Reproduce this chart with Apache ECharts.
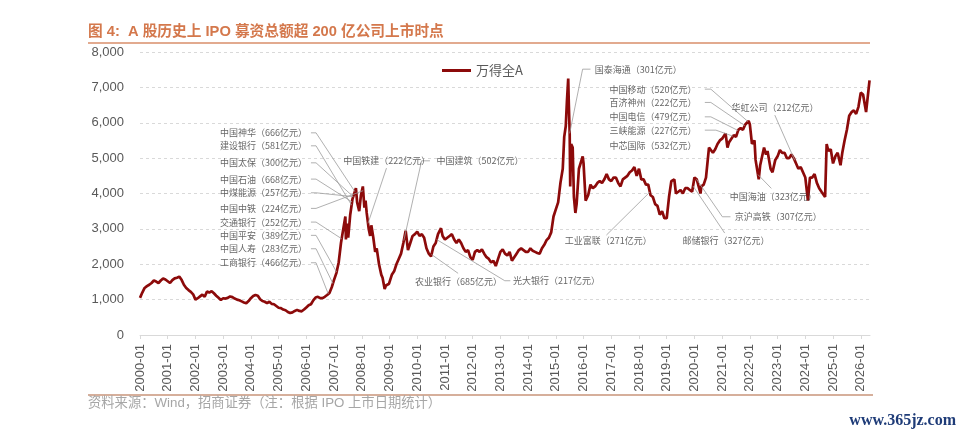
<!DOCTYPE html>
<html><head><meta charset="utf-8">
<script src="https://cdn.jsdelivr.net/npm/echarts@6/dist/echarts.min.js"></script>
<style>html,body{margin:0;padding:0;background:#fff}#c{width:964px;height:438px}</style>
</head><body><div id="c"></div>
<script>
// ---- data (Wind All A) ----
const seriesName = '万得全A';
const dates = [
'2000-01','2000-02','2000-03','2000-04','2000-05','2000-06','2000-07','2000-08','2000-09','2000-10','2000-11','2000-12',
'2001-01','2001-02','2001-03','2001-04','2001-05','2001-06','2001-07','2001-08','2001-09','2001-10','2001-11','2001-12',
'2002-01','2002-02','2002-03','2002-04','2002-05','2002-06','2002-07','2002-08','2002-09','2002-10','2002-11','2002-12',
'2003-01','2003-02','2003-03','2003-04','2003-05','2003-06','2003-07','2003-08','2003-09','2003-10','2003-11','2003-12',
'2004-01','2004-02','2004-03','2004-04','2004-05','2004-06','2004-07','2004-08','2004-09','2004-10','2004-11','2004-12',
'2005-01','2005-02','2005-03','2005-04','2005-05','2005-06','2005-07','2005-08','2005-09','2005-10','2005-11','2005-12',
'2006-01','2006-02','2006-03','2006-04','2006-05','2006-06','2006-07','2006-08','2006-09','2006-10','2006-11','2006-12',
'2007-01','2007-02','2007-03','2007-04','2007-05','2007-05-28','2007-06-05','2007-06-20','2007-07-05','2007-08','2007-09','2007-10-15','2007-11','2007-11-28','2007-12-20',
'2008-01-15','2008-02-05','2008-02-20','2008-03-05','2008-04','2008-04-20','2008-05-05','2008-06','2008-06-25','2008-07-15','2008-08-15','2008-09-15','2008-10','2008-10-28','2008-11-15','2008-12','2008-12-25',
'2009-01','2009-02','2009-03','2009-04','2009-05','2009-06','2009-07','2009-08','2009-08-31','2009-10','2009-11','2009-12',
'2010-01','2010-02','2010-03','2010-04','2010-05','2010-06','2010-07','2010-08','2010-09','2010-10','2010-11-10','2010-12',
'2011-01','2011-02','2011-03','2011-04','2011-05','2011-06','2011-07','2011-08','2011-09','2011-10','2011-11','2011-12',
'2012-01','2012-02','2012-03','2012-04','2012-05','2012-06','2012-07','2012-08','2012-09','2012-10','2012-11','2012-12',
'2013-01','2013-02','2013-03','2013-04','2013-05','2013-06','2013-07','2013-08','2013-09','2013-10','2013-11','2013-12',
'2014-01','2014-02','2014-03','2014-04','2014-05','2014-06','2014-07','2014-08','2014-09','2014-10','2014-11','2014-12',
'2015-01','2015-02','2015-03','2015-04','2015-04-20','2015-05-10','2015-05-25','2015-06-12','2015-06-20','2015-07','2015-07-08','2015-07-20','2015-08-10','2015-08-26','2015-09-15','2015-10','2015-11','2015-12-20',
'2016-01','2016-01-28','2016-03','2016-04','2016-05','2016-06','2016-07','2016-08','2016-09','2016-10','2016-11','2016-12',
'2017-01','2017-02','2017-03','2017-04','2017-05','2017-06','2017-07','2017-08','2017-09','2017-10','2017-11','2017-12',
'2018-01','2018-02','2018-03','2018-04','2018-05','2018-06','2018-07','2018-08','2018-09','2018-10','2018-11','2018-12',
'2019-01','2019-02','2019-03','2019-04-10','2019-05','2019-06','2019-07','2019-08','2019-09','2019-10','2019-11','2019-12',
'2020-01','2020-02','2020-03-20','2020-04','2020-05','2020-06','2020-07-10','2020-08','2020-09','2020-10','2020-11','2020-12',
'2021-01','2021-02-15','2021-03-10','2021-04','2021-05','2021-06','2021-07','2021-08','2021-09','2021-10','2021-11','2021-12-15',
'2022-01','2022-01-28','2022-03','2022-03-15','2022-04-26','2022-05-15','2022-07-05','2022-08','2022-08-20','2022-09-30','2022-10-25','2022-12',
'2023-01','2023-02','2023-03','2023-04','2023-05','2023-06','2023-07','2023-08','2023-09','2023-10','2023-11','2023-12',
'2024-01','2024-02-05','2024-03','2024-04','2024-05','2024-06','2024-07','2024-08','2024-09-18','2024-10-08','2024-11','2024-12',
'2025-01','2025-02','2025-03','2025-04-08','2025-05','2025-06','2025-07','2025-08','2025-09','2025-10','2025-11','2025-12',
'2026-01','2026-02','2026-03-10','2026-04-25'
];
const values = [
1050,1200,1330,1380,1420,1470,1540,1510,1470,1540,1600,1570,
1520,1470,1550,1600,1620,1650,1560,1420,1330,1270,1220,1150,
1000,1040,1090,1140,1080,1230,1200,1240,1180,1110,1050,990,
1040,1030,1050,1090,1070,1030,1000,980,950,920,900,960,
1040,1100,1130,1110,1010,960,940,900,940,880,870,820,
770,760,720,700,650,620,640,680,710,680,670,720,
780,840,870,980,1060,1080,1040,1040,1080,1130,1190,1350,
1560,1750,2050,2600,3000,3350,2700,3150,2750,3400,3850,4150,3750,3500,3950,
4200,3600,3800,3450,3000,2800,3100,2750,2350,2450,2000,1700,1620,1300,1400,1350,1450,
1500,1700,1800,2000,2150,2300,2600,2950,2400,2600,2800,2850,
2920,2800,2850,2750,2450,2300,2220,2500,2600,2850,3020,2800,
2700,2750,2800,2850,2700,2600,2700,2600,2450,2350,2400,2200,
2120,2350,2400,2350,2420,2300,2200,2150,2050,2100,1950,2150,
2350,2420,2300,2250,2350,2100,2200,2300,2400,2450,2400,2350,
2350,2450,2380,2350,2320,2300,2450,2550,2680,2750,2900,3350,
3550,3750,4300,4700,5600,5900,6600,7250,6500,5700,4200,5400,5300,3900,3450,3700,4700,5050,
4850,3800,3950,4250,4150,4200,4300,4350,4300,4400,4550,4400,
4350,4450,4450,4300,4200,4400,4450,4500,4600,4650,4750,4500,
4700,4400,4400,4250,4250,3950,3900,3700,3650,3400,3500,3300,
3300,3900,4350,4400,4000,4050,4100,4000,4150,4150,4100,4050,
4450,4400,4000,4200,4250,4450,5300,5300,5150,5250,5400,5500,
5550,5700,5300,5450,5550,5650,5600,5800,5850,5800,5950,6050,
5950,5400,5500,4950,4400,4800,5300,5100,5200,4700,4600,4950,
5050,5230,5150,5150,5000,5000,5100,5000,4850,4700,4750,4600,
4450,3800,4450,4450,4550,4300,4150,4050,3900,5400,5200,5250,
4850,5050,5150,4800,5150,5500,5800,6200,6300,6350,6250,6450,
6850,6800,6300,7200
];
const yMin = 0, yMax = 8000, yStep = 1000;
const firstYear = 2000, lastMonthIndex = 316;

// IPO annotations: text, label anchor [monthIndex, value], leader path, target month index
const annotations = [
  {t:'中国神华（666亿元）', at:[72.3,5715], align:'right', path:[[74.0,5715],[76.2,5715]], to:93.0},
  {t:'建设银行（581亿元）', at:[72.3,5348], align:'right', path:[[74.0,5348],[76.2,5348]], to:91.6},
  {t:'中国太保（300亿元）', at:[72.3,4867], align:'right', path:[[74.0,4867],[76.2,4867]], to:92.3},
  {t:'中国石油（668亿元）', at:[72.3,4407], align:'right', path:[[74.0,4407],[76.2,4407]], to:91.8},
  {t:'中煤能源（257亿元）', at:[72.3,4020], align:'right', path:[[74.0,4020],[76.2,4020]], to:92.3},
  {t:'中国中铁（224亿元）', at:[72.3,3579], align:'right', path:[[74.0,3579],[76.2,3579]], to:96.6},
  {t:'交通银行（252亿元）', at:[72.3,3192], align:'right', path:[[74.0,3192],[76.2,3192]], to:87.3},
  {t:'中国平安（389亿元）', at:[72.3,2817], align:'right', path:[[74.0,2817],[76.2,2817]], to:85.1},
  {t:'中国人寿（283亿元）', at:[72.3,2438], align:'right', path:[[74.0,2438],[76.2,2438]], to:83.5},
  {t:'工商银行（466亿元）', at:[72.3,2042], align:'right', path:[[74.0,2042],[76.2,2042]], to:81.5},
  {t:'中国铁建（222亿元）', at:[88.0,4924], align:'left', path:[[106.7,4718]], to:98.7},
  {t:'中国建筑（502亿元）', at:[128.4,4924], align:'left', path:[[125.5,4924],[121.9,4924]], to:114.2},
  {t:'农业银行（685亿元）', at:[119.0,1506], align:'left', path:[[137.7,1743]], to:126.2},
  {t:'光大银行（217亿元）', at:[161.5,1534], align:'left', path:[[160.3,1534],[157.9,1534]], to:128.4},
  {t:'国泰海通（301亿元）', at:[196.9,7515], align:'left', path:[[195.0,7515],[191.6,7515]], to:186.0},
  {t:'中国移动（520亿元）', at:[240.9,6950], align:'right', path:[[244.5,6950],[247.1,6950]], to:263.2},
  {t:'百济神州（222亿元）', at:[240.9,6574], align:'right', path:[[244.5,6574],[247.1,6574]], to:261.8},
  {t:'中国电信（479亿元）', at:[240.9,6167], align:'right', path:[[244.5,6167],[247.1,6167]], to:258.9},
  {t:'三峡能源（227亿元）', at:[240.9,5791], align:'right', path:[[244.5,5791],[249.3,5791]], to:256.7},
  {t:'中芯国际（532亿元）', at:[240.9,5348], align:'right', path:[], to:null},
  {t:'华虹公司（212亿元）', at:[256.0,6421], align:'left', path:[[274.8,6215]], to:283.4},
  {t:'中国海油（323亿元）', at:[255.3,3907], align:'left', path:[[273.3,4144]], to:267.5},
  {t:'京沪高铁（307亿元）', at:[257.5,3342], align:'left', path:[[255.6,3342],[252.1,3342]], to:240.9},
  {t:'邮储银行（327亿元）', at:[234.8,2664], align:'left', path:[[253.1,2882]], to:239.4},
  {t:'工业富联（271亿元）', at:[183.9,2664], align:'left', path:[[201.9,2825]], to:220.7}
];
const titleText = '图 4:  A 股历史上 IPO 募资总额超 200 亿公司上市时点';
const sourceText = '资料来源：Wind，招商证券（注：根据 IPO 上市日期统计）';
const watermark = 'www.365jz.com';

// ---- build ----
function monthIndex(s){
  const p = s.split('-').map(Number);
  return (p[0]-firstYear)*12 + (p[1]-1) + (p[2] ? (p[2]-1)/30 : 0);
}
const xs = dates.map(monthIndex);
const lineData = xs.map((x,i)=>[x, values[i]]);
function valueAt(m){
  for (let i=0;i<xs.length-1;i++){
    if (m>=xs[i] && m<=xs[i+1]){
      const f=(m-xs[i])/(xs[i+1]-xs[i]);
      return values[i]+(values[i+1]-values[i])*f;
    }
  }
  return values[values.length-1];
}
const leaderData = annotations.filter(a=>a.to!==null).map(a=>({
  coords: a.path.concat([[a.to, valueAt(a.to)]])
}));
const labelData = annotations.map(a=>({
  value: a.at,
  label: {formatter: a.t, align: a.align}
}));

const chart = echarts.init(document.getElementById('c'), null, {renderer:'canvas'});
const LBL = '"Liberation Sans", Arial, "Noto Sans CJK SC", sans-serif';
chart.setOption({
  animation: false,
  backgroundColor: '#fff',
  grid: {left: 140, right: 94, top: 52, bottom: 103},
  legend: {
    data: [seriesName], left: 437, top: 59,
    icon: 'rect', itemWidth: 29, itemHeight: 3, itemGap: 6,
    textStyle: {fontSize: 13, color: '#595959', fontFamily: '"Noto Sans CJK SC", sans-serif'}
  },
  xAxis: {
    type: 'value', min: 0, max: lastMonthIndex, interval: 12,
    axisLine: {show: true, lineStyle: {color: '#D9D9D9', width: 1}},
    axisTick: {show: true, length: 4, lineStyle: {color: '#D9D9D9'}},
    splitLine: {show: false},
    axisLabel: {
      rotate: 90, margin: 9, fontSize: 13, color: '#595959', fontFamily: LBL,
      showMaxLabel: false,
      formatter: v => (v % 12 === 0) ? (firstYear + v/12) + '-01' : ''
    }
  },
  yAxis: {
    type: 'value', min: yMin, max: yMax, interval: yStep,
    axisLine: {show: false}, axisTick: {show: false},
    splitLine: {show: true, lineStyle: {color: '#D9D9D9', type: [3,3], width: 1}},
    axisLabel: {margin: 16, fontSize: 13, color: '#595959', fontFamily: LBL,
      formatter: v => v.toLocaleString('en-US')}
  },
  series: [
    {
      name: seriesName, type: 'line', data: lineData, symbol: 'none',
      lineStyle: {color: '#8C0A0A', width: 2.7}, itemStyle: {color: '#8C0A0A'}, z: 3
    },
    {
      name: 'leaders', type: 'lines', coordinateSystem: 'cartesian2d', polyline: true,
      data: leaderData, silent: true, z: 4,
      lineStyle: {color: '#9C9C9C', width: 0.8, opacity: 1, curveness: 0}
    },
    {
      name: 'labels', type: 'scatter', data: labelData, symbolSize: 0, silent: true, z: 5,
      label: {show: true, position: [0,0], verticalAlign: 'middle', fontSize: 9,
        color: '#404040', fontFamily: '"Noto Sans CJK SC", sans-serif'}
    }
  ],
  graphic: [
    {type: 'text', left: 88, top: 25, style: {text: titleText, fill: '#D4784C',
      font: 'bold 14.7px "Liberation Sans", Arial, "Noto Sans CJK SC", sans-serif'}},
    {type: 'line', shape: {x1: 88, y1: 43, x2: 870, y2: 43}, style: {stroke: '#D88E6A', lineWidth: 1.5}},
    {type: 'line', shape: {x1: 88, y1: 395, x2: 873, y2: 395}, style: {stroke: '#C9947A', lineWidth: 1.5}},
    {type: 'text', left: 88, top: 397, style: {text: sourceText, fill: '#A6A6A6',
      font: '13.3px "Liberation Sans", Arial, "Noto Sans CJK SC", sans-serif'}},
    {type: 'text', right: 8, top: 413, style: {text: watermark, fill: '#1F3C78',
      font: 'bold 16px "Liberation Serif", "DejaVu Serif", serif'}}
  ]
});
</script>
</body></html>
